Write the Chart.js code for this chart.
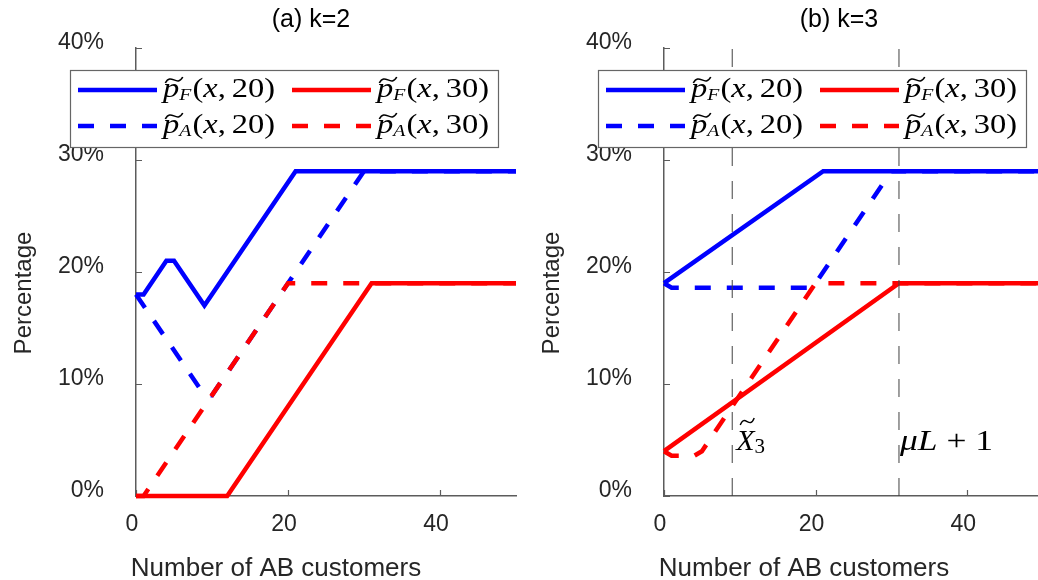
<!DOCTYPE html>
<html lang="en">
<head>
<meta charset="UTF-8">
<title>Percentage vs number of AB customers</title>
<script src="https://cdn.jsdelivr.net/npm/chart.js"></script>
<style>
  html, body { margin: 0; padding: 0; background: #fff; overflow: hidden; }
  .wrap { position: relative; width: 1038px; height: 580px; overflow: hidden; }
  #chartA { position: absolute; left: 0; top: 0; }
  #chartB { position: absolute; left: 519px; top: 0; }
</style>
</head>
<body>
<div class="wrap">
  <canvas id="chartA" width="519" height="580"></canvas>
  <canvas id="chartB" width="540" height="580"></canvas>
</div>
<script>
// ---- values ----
const panelTitles = ['(a) k=2', '(b) k=3'];
const xTickVals = [0, 20, 40];
const yTickVals = [0, 10, 20, 30, 40];

// panel (a) k=2
const aF20x = [0, 1, 4, 5, 9, 21, 50];
const aF20y = [18, 18, 21, 21, 17, 29, 29];
const aA20x = [0, 9, 10, 30, 50];
const aA20y = [18, 9, 9, 29, 29];
const aF30x = [0, 12, 31, 50];
const aF30y = [0, 0, 19, 19];
const aA30x = [0, 1, 20, 50];
const aA30y = [0, 0, 19, 19];

// panel (b) k=3
const bF20x = [0, 21, 50];
const bF20y = [19, 29, 29];
const bA20x = [0, 1, 19, 20, 30, 50];
const bA20y = [19, 18.6, 18.6, 19, 29, 29];
const bF30x = [0, 31, 50];
const bF30y = [4, 19, 19];
const bA30x = [0, 1, 4, 5, 20, 50];
const bA30y = [4, 3.6, 3.6, 4, 19, 19];

// vertical markers in (b): X~3 and muL+1
const markX = [9, 31];
const markLabelY = 4.1;

const BLUE = '#0000ff', RED = '#ff0000';
const AXIS = '#5c5c5c', TEXT = '#262626';
const SANS = '"Liberation Sans", Arial, sans-serif';
const SERIF = '"Liberation Serif", "DejaVu Serif", serif';
const DASH = [16, 16];
const LW = 4.5;

function pts(xs, ys) { return xs.map((x, i) => ({ x: x, y: ys[i] })); }

function series(xs, ys, color, dashed, sub, arg, order) {
    return {
        data: pts(xs, ys),
        borderColor: color,
        borderWidth: LW,
        borderDash: dashed ? DASH : [],
        pointRadius: 0,
        tension: 0,
        fill: false,
        clip: false,
        order: order,
        sub: sub,
        arg: arg
    };
}

// draw a run of text pieces (used for the LaTeX-ish math labels)
function mathRun(ctx, x, yb, parts, width) {
    let total = 0;
    parts.forEach(p => { ctx.font = p.font; p.w = ctx.measureText(p.t).width + (p.pad || 0); total += p.w; });
    ctx.save();
    ctx.translate(x, yb);
    if (width) ctx.scale(width / total, 1);
    ctx.fillStyle = '#000';
    ctx.strokeStyle = '#000';
    ctx.textAlign = 'left';
    ctx.textBaseline = 'alphabetic';
    let cx = 0;
    parts.forEach(p => {
        ctx.font = p.font;
        ctx.fillText(p.t, cx, p.dy || 0);
        if (p.tilde) {
            const [x0, x1, hi, lo] = p.tilde;
            const w = x1 - x0;
            ctx.lineWidth = 1.4;
            ctx.beginPath();
            ctx.moveTo(cx + x0, -lo);
            ctx.bezierCurveTo(cx + x0 + w * 0.33, -hi - 5, cx + x0 + w * 0.66, -lo + 5, cx + x1, -hi);
            ctx.stroke();
        }
        cx += p.w;
    });
    ctx.restore();
}

function drawP(ctx, x, yb, sub, arg) {
    const it = 'italic 28px ' + SERIF, up = '28px ' + SERIF, sm = 'italic 17px ' + SERIF;
    mathRun(ctx, x, yb, [
        { t: 'p', font: it, tilde: [2, 17, 20, 14] },
        { t: sub, font: sm, dy: 3, pad: 1 },
        { t: '(', font: up },
        { t: 'x', font: it },
        { t: ',', font: up, pad: 5 },
        { t: arg, font: up },
        { t: ')', font: up }
    ], 112);
}

const decor = {
    id: 'decor',
    beforeDatasetsDraw(chart, args, opts) {
        const { ctx, chartArea: a, scales: { x, y } } = chart;
        ctx.save();
        // inward tick marks
        ctx.strokeStyle = AXIS;
        ctx.lineWidth = 1.2;
        ctx.beginPath();
        y.ticks.forEach(t => { const p = Math.round(y.getPixelForValue(t.value)) + 0.5; ctx.moveTo(a.left, p); ctx.lineTo(a.left + 6, p); });
        x.ticks.forEach(t => { const p = Math.round(x.getPixelForValue(t.value)) + 0.5; ctx.moveTo(p, a.bottom); ctx.lineTo(p, a.bottom - 6); });
        ctx.stroke();
        // titles
        ctx.textAlign = 'center';
        ctx.textBaseline = 'middle';
        ctx.font = '25px ' + SANS;
        ctx.fillStyle = '#000';
        ctx.fillText(opts.title, a.left + 175, 20);
        ctx.fillStyle = TEXT;
        ctx.font = '26px ' + SANS;
        ctx.textBaseline = 'alphabetic';
        ctx.fillText('Number of AB customers', a.left + 140, 576);
        ctx.font = '24px ' + SANS;
        ctx.translate(a.left - 112, 293);
        ctx.rotate(-Math.PI / 2);
        ctx.textBaseline = 'middle';
        ctx.fillText('Percentage', 0, 0);
        ctx.restore();
    },
    afterDatasetsDraw(chart, args, opts) {
        const { ctx, chartArea: a, scales: { x, y } } = chart;
        const L = a.left;
        ctx.save();
        // legend box
        ctx.fillStyle = '#fff';
        ctx.fillRect(L - 66, 70, 428, 77);
        ctx.strokeStyle = '#666';
        ctx.lineWidth = 1.2;
        ctx.strokeRect(L - 66 + 0.5, 70.5, 428, 77);
        opts.legendOrder.forEach((di, i) => {
            const ds = chart.data.datasets[di];
            const col = i % 2, row = Math.floor(i / 2);
            const x0 = L - 58 + col * 214, yy = 90 + row * 36;
            ctx.strokeStyle = ds.borderColor;
            ctx.lineWidth = LW;
            ctx.setLineDash(ds.borderDash);
            ctx.beginPath();
            ctx.moveTo(x0, yy);
            ctx.lineTo(x0 + 79, yy);
            ctx.stroke();
            ctx.setLineDash([]);
            drawP(ctx, x0 + 85, yy + 7, ds.sub, ds.arg);
        });
        // marker labels
        if (opts.marks) {
            const yb = y.getPixelForValue(markLabelY);
            const it = 'italic 30px ' + SERIF, up = '30px ' + SERIF;
            mathRun(ctx, x.getPixelForValue(opts.marks[0]) + 4, yb, [
                { t: 'X', font: it, tilde: [4, 18, 32, 25] },
                { t: '3', font: '21px ' + SERIF, dy: 3 }
            ]);
            mathRun(ctx, x.getPixelForValue(opts.marks[1]) + 1, yb, [
                { t: 'μ', font: it },
                { t: 'L', font: it },
                { t: ' + ', font: up },
                { t: '1', font: up }
            ], 93);
        }
        ctx.restore();
    }
};

function mkChart(id, title, sets, marks, left, right) {
    const extra = [];
    if (marks) {
        marks.forEach(m => extra.push({
            data: [{ x: m, y: 0 }, { x: m, y: 40 }],
            borderColor: '#404040', borderWidth: 1, borderDash: [18, 15],
            pointRadius: 0, clip: false, order: 0
        }));
    }
    return new Chart(document.getElementById(id), {
        type: 'line',
        data: { datasets: sets.concat(extra) },
        options: {
            responsive: false,
            animation: false,
            events: [],
            layout: { padding: { left: 0, top: 48, right: right, bottom: 0 } },
            scales: {
                x: {
                    type: 'linear', min: 0, max: 50,
                    afterFit: s => { s.height = 84; },
                    afterBuildTicks: s => { s.ticks = xTickVals.map(v => ({ value: v })); },
                    grid: { display: false, drawTicks: false },
                    border: { display: true, color: AXIS, width: 1.5 },
                    ticks: { padding: 15, labelOffset: -4, color: TEXT, font: { family: SANS, size: 23 } }
                },
                y: {
                    type: 'linear', min: 0, max: 40,
                    afterFit: s => { s.width = left; },
                    afterBuildTicks: s => { s.ticks = yTickVals.map(v => ({ value: v })); },
                    grid: { display: false, drawTicks: false },
                    border: { display: true, color: AXIS, width: 1.5 },
                    ticks: { padding: 32, labelOffset: -5, color: TEXT, font: { family: SANS, size: 23 }, callback: v => v + '%' }
                }
            },
            plugins: {
                legend: { display: false },
                tooltip: { enabled: false },
                decor: { title: title, marks: marks, legendOrder: [0, 1, 2, 3] }
            }
        },
        plugins: [decor]
    });
}

// dataset order: F20, F30, A20, A30 (red dashed drawn on top of blue dashed)
mkChart('chartA', panelTitles[0], [
    series(aF20x, aF20y, BLUE, false, 'F', '20', 4),
    series(aF30x, aF30y, RED, false, 'F', '30', 3),
    series(aA20x, aA20y, BLUE, true, 'A', '20', 2),
    series(aA30x, aA30y, RED, true, 'A', '30', 1)
], null, 136, 3);

mkChart('chartB', panelTitles[1], [
    series(bF20x, bF20y, BLUE, false, 'F', '20', 4),
    series(bF30x, bF30y, RED, false, 'F', '30', 3),
    series(bA20x, bA20y, BLUE, true, 'A', '20', 2),
    series(bA30x, bA30y, RED, true, 'A', '30', 1)
], markX, 145, 16);
</script>
</body>
</html>
